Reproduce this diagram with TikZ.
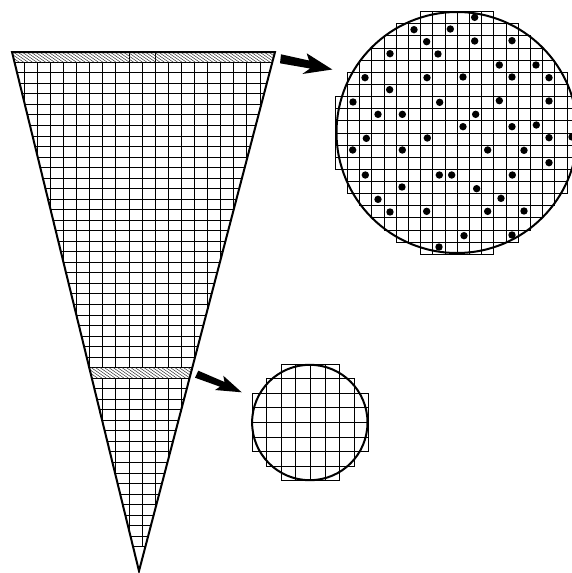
\documentclass[tikz,border=0pt]{standalone}
\begin{document}
\begin{tikzpicture}[x=1pt,y=-1pt,
  gridline/.style={line width=0.95pt,black},
  outline/.style={line width=2pt,black},
  hatchline/.style={line width=0.5pt,black!80},
  dot/.style={fill=black}]
\useasboundingbox (0,0) rectangle (572,573);
\clip (0,0) rectangle (572,573);
\fill[white] (0,0) rectangle (572,573);
% cone grid
\begin{scope}
\clip (12,52) -- (275,52) -- (139,571) -- cycle;
\foreach \k in {-8,...,10} \draw[gridline] ({129+13.1*\k},62.3) -- ({129+13.1*\k},547);
\foreach \j in {0,...,46} \draw[gridline] (0,{62.3+10.53*\j}) -- (290,{62.3+10.53*\j});
\draw[gridline] (129,52) -- (129,62.3) (155.2,52) -- (155.2,62.3);
\foreach \i in {0,...,62} \draw[hatchline] ({0+4.4*\i},52) -- ({0+4.4*\i+15},62.3);
\fill[white] (0,367.6) rectangle (290,378);
\draw[gridline] (0,367.6) -- (290,367.6) (0,378) -- (290,378);
\foreach \i in {0,...,28} \draw[hatchline] ({78+4.4*\i},367.6) -- ({78+4.4*\i+15},378);
\end{scope}
\draw[outline,line join=miter] (12,52) -- (275,52) -- (139,571) -- cycle;
% large wafer
\foreach \k in {0,...,19}{\foreach \j in {0,...,19}{
  \pgfmathsetmacro{\dd}{(\k-9.5)^2+(\j-9.5)^2}
  \ifdim\dd pt<96.8pt
    \draw[gridline] ({335.3+12.2*\k},{11.7+12.13*\j}) rectangle ++(12.2,12.13);
  \fi}}
\draw[outline] (457,132.5) circle (120.5);
\foreach \x/\y in {458/52,276/89,385/87,314/125,458/123,570/122,204/161,348/162,532/195,642/195,129/233,315/233,423/231,570/231,681/233,203/269,93/306,353/307,532/302,681/303,168/343,241/343,461/343,423/380,570/380,643/375,133/415,316/414,681/413,750/411,92/450,241/450,497/450,606/451,681/488,130/525,352/525,389/525,571/525,240/561,464/566,168/598,537/595,204/636,314/634,497/634,606/633,426/707,570/705,351/741}
  \fill[dot] ({322+\x/3},{\y/3}) circle (3.7);
% small wafer
\foreach \k in {0,...,7}{\foreach \j in {0,...,7}{
  \pgfmathsetmacro{\dd}{(\k-3.5)^2+(\j-3.5)^2}
  \ifdim\dd pt<15.6pt
    \draw[gridline] ({252+14.6*\k},{364+14.6*\j}) rectangle ++(14.6,14.6);
  \fi}}
\draw[outline] (309.8,422.5) circle (57.7);
% arrows
\fill (281,54.3) -- (309,60.5) -- (306.7,53.3) -- (332.3,69.5) -- (302.3,74) -- (310,68.5) -- (280,63.3) -- cycle;
\fill (198.3,370.7) -- (224.5,382) -- (223.3,375.7) -- (241.7,392.3) -- (215,390) -- (220,386.7) -- (195,377.7) -- cycle;
\end{tikzpicture}
\end{document}
